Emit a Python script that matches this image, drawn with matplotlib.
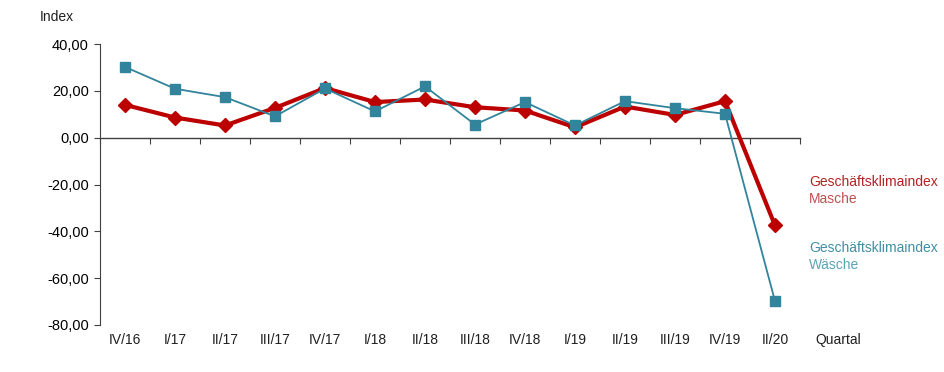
import numpy as np
import matplotlib
matplotlib.use('Agg')
from matplotlib import pyplot as plt
from matplotlib.ticker import FuncFormatter, FixedLocator

plt.rcParams['font.family'] = ['Liberation Sans', 'DejaVu Sans']

# quarters and index values
quarters = ['IV/16', 'I/17', 'II/17', 'III/17', 'IV/17', 'I/18', 'II/18',
            'III/18', 'IV/18', 'I/19', 'II/19', 'III/19', 'IV/19', 'II/20']
masche = [14.0, 8.6, 5.2, 12.7, 21.2, 15.2, 16.3, 13.0, 11.6, 4.4, 13.3, 9.7, 15.6, -37.5]
waesche = [30.2, 20.9, 17.3, 9.1, 21.0, 11.2, 21.9, 5.6, 15.2, 5.2, 15.6, 12.6, 10.2, -69.8]
yticks = [40, 20, 0, -20, -40, -60, -80]

red = '#BC0000'
teal = '#31849B'

fig = plt.figure(figsize=(9.45, 3.72), dpi=100)
ax = fig.add_axes([100 / 945, 1 - 325 / 372, 700 / 945, 281 / 372])

x = np.arange(len(quarters))
ax.plot(x, masche, color=red, lw=3.0, marker='D', ms=7.5, mfc=red, mec=red, zorder=3)
ax.plot(x, waesche, color=teal, lw=1.3, marker='s', ms=7, mfc=teal, mec=teal, zorder=4)

ax.set_xlim(-0.5, len(quarters) - 0.5)
ax.set_ylim(-80, 40)

# spines: left axis plus a horizontal axis line at zero
for s in ['top', 'right']:
    ax.spines[s].set_visible(False)
ax.spines['left'].set_color('#404040')
ax.spines['bottom'].set_position(('data', 0))
ax.spines['bottom'].set_color('#404040')
ax.spines['bottom'].set_linewidth(1.0)

ax.yaxis.set_major_locator(FixedLocator(yticks))
ax.yaxis.set_major_formatter(FuncFormatter(lambda v, p: f'{v:.2f}'.replace('.', ',')))
ax.tick_params(axis='y', direction='out', length=4, labelsize=10.5, color='#404040', pad=4)

ax.xaxis.set_major_locator(FixedLocator(np.arange(len(quarters) + 1) - 0.5))
ax.tick_params(axis='x', direction='out', length=4, color='#404040', labelbottom=False)

# category labels below the plot
for i, q in enumerate(quarters):
    ax.text(i, -0.055, q, transform=ax.get_xaxis_transform(), ha='center', va='center',
            fontsize=10, color='#202020')
ax.text(838 / 945, 1 - 340 / 372, 'Quartal', transform=fig.transFigure, ha='center',
        va='center', fontsize=10, color='#202020')
fig.text(40 / 945, 1 - 17 / 372, 'Index', ha='left', va='center', fontsize=10, color='#202020')

# series labels on the right
fig.text(809 / 945, 1 - 182 / 372, 'Geschäftsklimaindex', fontsize=10, color='#B22222', va='center')
fig.text(809 / 945, 1 - 199 / 372, 'Masche', fontsize=10, color='#C0504D', va='center')
fig.text(809 / 945, 1 - 248 / 372, 'Geschäftsklimaindex', fontsize=10, color='#3E8FA3', va='center')
fig.text(809 / 945, 1 - 265 / 372, 'Wäsche', fontsize=10, color='#5BA3B5', va='center')

fig.savefig('out.png', dpi=100)
